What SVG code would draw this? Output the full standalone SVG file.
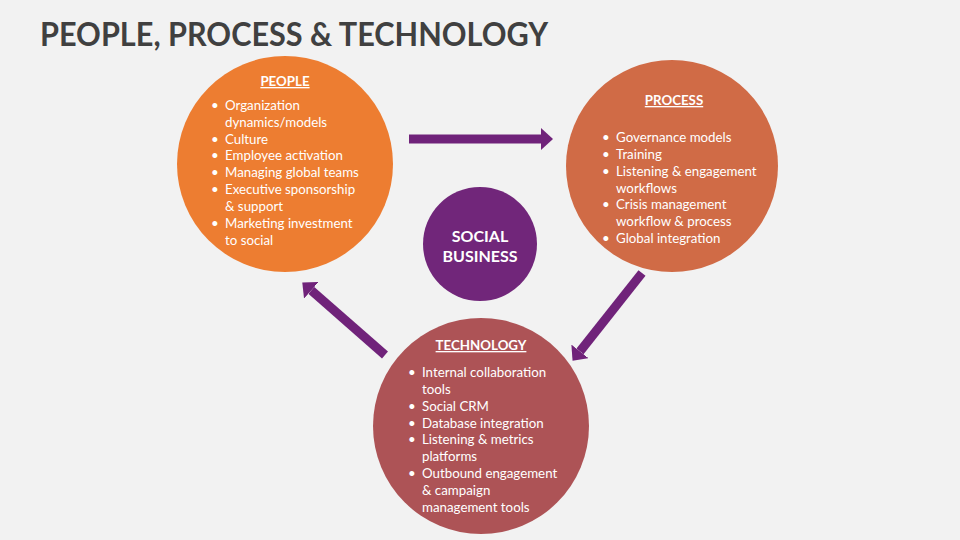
<svg xmlns="http://www.w3.org/2000/svg" width="960" height="540" viewBox="0 0 960 540">
<defs>
<marker id="ah" markerUnits="userSpaceOnUse" markerWidth="12" markerHeight="22" viewBox="0 0 12 22" refX="0" refY="11" orient="auto">
<path d="M0,0 L12,11 L0,22 Z" fill="#70237A"/>
</marker>
<style>
.t{font-family:Lato,"Open Sans","Liberation Sans",sans-serif;fill:#ffffff;font-size:13.3px}
.h{font-weight:bold;text-decoration:underline;text-anchor:middle}
.b{font-weight:bold;font-size:16px;text-anchor:middle}
.con{stroke:#70237A;stroke-width:9;fill:none}
</style>
</defs>
<rect width="960" height="540" fill="#f2f2f2"/>
<text x="40" y="46" font-family="Lato,'Open Sans','Liberation Sans',sans-serif" font-weight="bold" font-size="32" fill="#404040" textLength="508" lengthAdjust="spacingAndGlyphs">PEOPLE, PROCESS &amp; TECHNOLOGY</text>
<g id="connectors">
<line class="con" x1="409" y1="139" x2="541" y2="139" marker-end="url(#ah)"/>
<line class="con" x1="642" y1="273" x2="580" y2="351.4" marker-end="url(#ah)"/>
<line class="con" x1="385" y1="355" x2="311.3" y2="290.3" marker-end="url(#ah)"/>
</g>
<g id="people">
<circle cx="285" cy="164" r="108" fill="#ED7D31"/>
<text class="t h" x="285" y="86">PEOPLE</text>
<g class="t">
<text x="211" y="110">•</text><text x="225" y="110">Organization</text>
<text x="225" y="127">dynamics/models</text>
<text x="211" y="144">•</text><text x="225" y="144">Culture</text>
<text x="211" y="160">•</text><text x="225" y="160">Employee activation</text>
<text x="211" y="177">•</text><text x="225" y="177">Managing global teams</text>
<text x="211" y="194">•</text><text x="225" y="194">Executive sponsorship</text>
<text x="225" y="211">&amp; support</text>
<text x="211" y="228">•</text><text x="225" y="228">Marketing investment</text>
<text x="225" y="245">to social</text>
</g>
</g>
<g id="process">
<circle cx="672" cy="166" r="106" fill="#D06B46"/>
<text class="t h" x="674" y="105">PROCESS</text>
<g class="t">
<text x="602" y="142">•</text><text x="616" y="142">Governance models</text>
<text x="602" y="159">•</text><text x="616" y="159">Training</text>
<text x="602" y="176">•</text><text x="616" y="176">Listening &amp; engagement</text>
<text x="616" y="193">workflows</text>
<text x="602" y="209">•</text><text x="616" y="209">Crisis management</text>
<text x="616" y="226">workflow &amp; process</text>
<text x="602" y="243">•</text><text x="616" y="243">Global integration</text>
</g>
</g>
<g id="technology">
<circle cx="481" cy="426" r="108" fill="#AD5356"/>
<text class="t h" x="481" y="350">TECHNOLOGY</text>
<g class="t">
<text x="408" y="377">•</text><text x="422" y="377">Internal collaboration</text>
<text x="422" y="394">tools</text>
<text x="408" y="411">•</text><text x="422" y="411">Social CRM</text>
<text x="408" y="428">•</text><text x="422" y="428">Database integration</text>
<text x="408" y="444">•</text><text x="422" y="444">Listening &amp; metrics</text>
<text x="422" y="461">platforms</text>
<text x="408" y="478">•</text><text x="422" y="478">Outbound engagement</text>
<text x="422" y="495">&amp; campaign</text>
<text x="422" y="512">management tools</text>
</g>
</g>
<g id="social-business">
<circle cx="480" cy="244" r="57" fill="#71267A"/>
<text class="t b" x="480" y="242">SOCIAL</text>
<text class="t b" x="480" y="262">BUSINESS</text>
</g>
</svg>
